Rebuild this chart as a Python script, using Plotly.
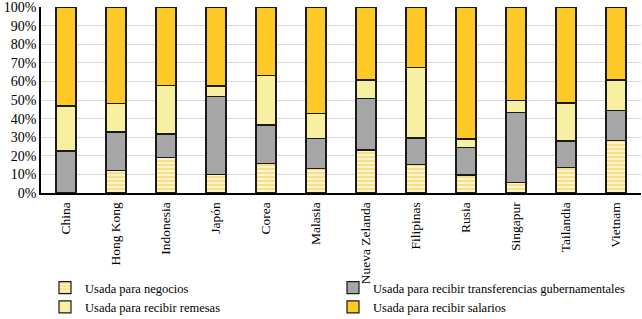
import plotly.graph_objects as go

categories = ["China", "Hong Kong", "Indonesia", "Japón", "Corea", "Malasia",
              "Nueva Zelanda", "Filipinas", "Rusia", "Singapur", "Tailandia", "Vietnam"]
negocios = [0.0, 12.2, 19.2, 10.0, 15.8, 13.3, 23.1, 15.2, 9.7, 5.5, 13.6, 28.3]
transferencias = [22.6, 20.6, 12.5, 41.8, 20.8, 15.9, 27.6, 14.4, 14.9, 37.7, 14.4, 16.2]
remesas = [24.2, 15.4, 26.2, 5.7, 26.7, 13.6, 10.1, 37.8, 4.4, 6.6, 20.4, 16.3]
salarios = [round(100 - a - b - c, 1) for a, b, c in zip(negocios, transferencias, remesas)]
y_ticks = [0, 10, 20, 30, 40, 50, 60, 70, 80, 90, 100]

FONT = "Liberation Serif"
line = dict(color="#1a1a1a", width=1.2)

fig = go.Figure()
fig.add_bar(x=categories, y=negocios, name="Usada para negocios", legend="legend",
            marker=dict(color="#FFF7D6", line=line,
                        pattern=dict(shape="-", fgcolor="#F6C531", bgcolor="#FFF7D6",
                                     size=4, solidity=0.55)))
fig.add_bar(x=categories, y=transferencias, name="Usada para recibir transferencias gubernamentales",
            legend="legend2", marker=dict(color="#A6A6A6", line=line))
fig.add_bar(x=categories, y=remesas, name="Usada para recibir remesas", legend="legend",
            marker=dict(color="#F6F0A0", line=line))
fig.add_bar(x=categories, y=salarios, name="Usada para recibir salarios", legend="legend2",
            marker=dict(color="#FEC926", line=line))

leg_common = dict(orientation="v", xanchor="left", xref="container",
                  yref="container", yanchor="top", bgcolor="rgba(0,0,0,0)",
                  font=dict(family=FONT, size=12.5, color="black"),
                  itemwidth=30, traceorder="normal")

fig.update_layout(
    width=642, height=319,
    barmode="stack", bargap=0.6,
    margin=dict(l=41, r=1, t=7, b=126, autoexpand=False),
    paper_bgcolor="white", plot_bgcolor="white",
    font=dict(family=FONT, size=14, color="black"),
    showlegend=True,
    legend=dict(x=45 / 642, y=1 - 273 / 319, **leg_common),
    legend2=dict(x=333 / 642, y=1 - 273 / 319, **leg_common),
)
fig.update_yaxes(range=[0, 100.01], tickvals=y_ticks, ticktext=[f"{v}%" for v in y_ticks],
                 showgrid=True, gridcolor="#D9D9D9", gridwidth=1,
                 showline=True, linecolor="black", linewidth=1.5, automargin=False,
                 ticklabeloverflow="allow",
                 ticks="", zeroline=False, tickfont=dict(size=14))
fig.update_xaxes(tickangle=-90, showline=True, linecolor="black", linewidth=1.5,
                 automargin=False, ticks="", ticklabelstandoff=2, tickfont=dict(size=13.5))

fig.write_html("out.html", config={"displayModeBar": False},
               post_script="document.body.style.margin='0';document.body.style.overflow='hidden';")
